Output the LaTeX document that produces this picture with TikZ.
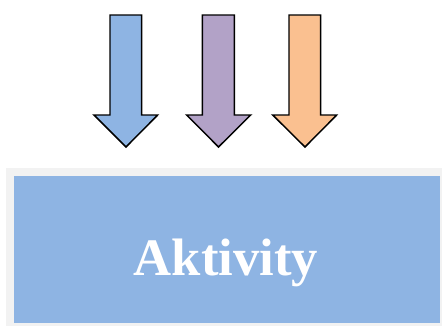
\documentclass[tikz,border=0pt]{standalone}
\usepackage{fontspec}
\setmainfont{Liberation Serif}
\definecolor{ablue}{HTML}{8EB4E3}
\definecolor{apurple}{HTML}{B2A2C7}
\definecolor{aorange}{HTML}{FAC090}
\definecolor{agray}{HTML}{F2F2F2}
\begin{document}
\begin{tikzpicture}[x=0.75pt,y=-0.75pt,
  downarrow/.style={draw=black,line width=1.1pt,line join=miter}]
\useasboundingbox (0,0) rectangle (442,326);
% arrows
\foreach \c/\xl/\xr/\hl/\hr/\tx/\nm in {ablue/110/141.7/94/157.7/126/a1, apurple/202.3/234.3/186.7/250.7/218.5/a2, aorange/289/320.7/272.7/336.7/305/a3}{
  \draw[downarrow,fill=\c] (\xl,15) -- (\xr,15) -- (\xr,115) -- (\hr,115) -- (\tx,147) -- (\hl,115) -- (\xl,115) -- cycle;
}
% box
\fill[agray] (5.7,168.3) rectangle (442,326);
\node[fill=ablue,inner sep=0pt,minimum width=426.7*0.75pt,minimum height=146.3*0.75pt,anchor=north west] (box) at (13.3,176) {};
\node[anchor=base,inner sep=0pt,text=white,font=\bfseries\fontsize{39.5}{46}\selectfont] (lbl) at (226,275) {Aktivity};
\end{tikzpicture}
\end{document}
